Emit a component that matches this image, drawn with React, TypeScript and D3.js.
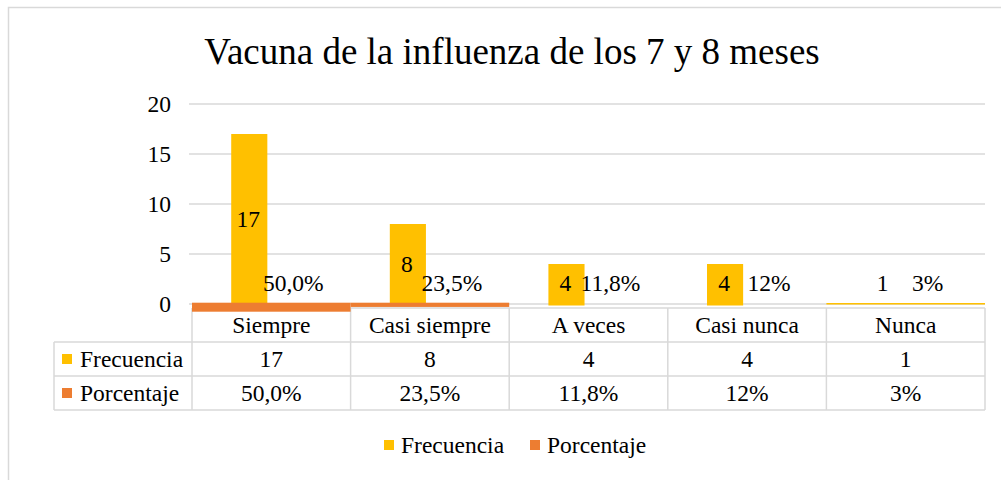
import React, { useEffect, useRef } from 'react';
import * as d3 from 'd3';

const categories = ['Siempre', 'Casi siempre', 'A veces', 'Casi nunca', 'Nunca'];
const frecuencia = [17, 8, 4, 4, 1];
const porcentaje = ['50,0%', '23,5%', '11,8%', '12%', '3%'];
// what the original chart actually plots (some cells were not plotted as bars)
const frecuenciaPlotted = [17, 8, 4, 4, null];
const porcentajePlotted = [0.5, 0.235, null, null, null];
const nuncaLineValue = 0.1;
const yTicks = [0, 5, 10, 15, 20];

const YELLOW = '#FFC000';
const ORANGE = '#ED7D31';
const GRID = '#d9d9d9';
const FONT = '"Liberation Serif", "Times New Roman", serif';
const FS = 23.5;

const App = () => {
  const ref = useRef<SVGSVGElement>(null);

  useEffect(() => {
    const svg = d3.select(ref.current);
    svg.selectAll('*').remove();

    // outer frame
    svg.append('rect')
      .attr('x', 8.5).attr('y', 7.5)
      .attr('width', 1000).attr('height', 480)
      .attr('fill', 'white').attr('stroke', GRID).attr('stroke-width', 1.5);

    svg.append('text')
      .attr('x', 512).attr('y', 64)
      .attr('text-anchor', 'middle')
      .attr('font-family', FONT).attr('font-size', 37)
      .text('Vacuna de la influenza de los 7 y 8 meses');

    const x = d3.scaleBand().domain(categories).range([192, 985]);
    const xs = d3.scaleBand().domain(['f', 'p']).range([0, x.bandwidth()])
      .paddingInner(0.18).paddingOuter(0.89);
    const y = d3.scaleLinear().domain([0, 20]).range([304, 104]);
    const pctDepth = d3.scaleLinear().domain([0, 1]).range([0, 18]);

    // gridlines + y labels
    svg.append('g').selectAll('line').data(yTicks).join('line')
      .attr('x1', 189).attr('x2', 985)
      .attr('y1', d => y(d)).attr('y2', d => y(d))
      .attr('stroke', GRID).attr('stroke-width', 1.5);
    svg.append('g').selectAll('text').data(yTicks).join('text')
      .attr('x', 171).attr('y', d => y(d) + 8)
      .attr('text-anchor', 'end')
      .attr('font-family', FONT).attr('font-size', FS)
      .text(d => d);

    // data table
    const rowH = 34;
    const top = 308;
    const left = 54;
    const table = svg.append('g');
    const hLines = [
      { y: top, x1: 192 },
      { y: top + rowH, x1: left },
      { y: top + rowH * 2, x1: left },
      { y: top + rowH * 3, x1: left },
    ];
    table.selectAll('line.h').data(hLines).join('line')
      .attr('x1', d => d.x1).attr('x2', 985)
      .attr('y1', d => d.y).attr('y2', d => d.y)
      .attr('stroke', GRID).attr('stroke-width', 1.5);
    const colEdges = [...categories.map(c => x(c)!), 985];
    table.selectAll('line.v').data(colEdges).join('line')
      .attr('x1', d => d).attr('x2', d => d)
      .attr('y1', top).attr('y2', top + rowH * 3)
      .attr('stroke', GRID).attr('stroke-width', 1.5);
    table.append('line')
      .attr('x1', left).attr('x2', left)
      .attr('y1', top + rowH).attr('y2', top + rowH * 3)
      .attr('stroke', GRID).attr('stroke-width', 1.5);

    const tText = table.append('g')
      .attr('font-family', FONT).attr('font-size', FS).attr('text-anchor', 'middle');
    categories.forEach((c, i) => {
      const cx = x(c)! + x.bandwidth() / 2;
      tText.append('text').attr('x', cx).attr('y', top + rowH / 2 + 8).text(c);
      tText.append('text').attr('x', cx).attr('y', top + rowH * 1.5 + 8).text(frecuencia[i]);
      tText.append('text').attr('x', cx).attr('y', top + rowH * 2.5 + 8).text(porcentaje[i]);
    });
    const series = [
      { name: 'Frecuencia', color: YELLOW },
      { name: 'Porcentaje', color: ORANGE },
    ];
    series.forEach((s, i) => {
      const cy = top + rowH * (1.5 + i);
      table.append('rect').attr('x', 62).attr('y', cy - 5).attr('width', 10).attr('height', 10).attr('fill', s.color);
      table.append('text').attr('x', 80).attr('y', cy + 8)
        .attr('font-family', FONT).attr('font-size', FS).text(s.name);
    });

    // frecuencia bars
    svg.append('g').selectAll('rect')
      .data(categories.map((c, i) => ({ c, v: frecuenciaPlotted[i] })).filter(d => d.v != null))
      .join('rect')
      .attr('x', d => x(d.c)! + xs('f')!)
      .attr('width', xs.bandwidth())
      .attr('y', d => y(d.v as number))
      .attr('height', d => y(0) - y(d.v as number) + 1.5)
      .attr('fill', YELLOW);

    // porcentaje bars (drawn full width, below the baseline)
    svg.append('g').selectAll('rect')
      .data(categories.map((c, i) => ({ c, v: porcentajePlotted[i] })).filter(d => d.v != null))
      .join('rect')
      .attr('x', d => x(d.c)!)
      .attr('width', x.bandwidth())
      .attr('y', y(0) - 1.3)
      .attr('height', d => pctDepth(d.v as number))
      .attr('fill', ORANGE);

    // thin line in Nunca
    svg.append('rect')
      .attr('x', x('Nunca')!).attr('width', x.bandwidth())
      .attr('y', y(nuncaLineValue)).attr('height', 1.5)
      .attr('fill', YELLOW);

    // data labels
    const labels = svg.append('g')
      .attr('font-family', FONT).attr('font-size', FS).attr('text-anchor', 'middle');
    categories.forEach((c, i) => {
      const mid = (y(0) + y(frecuencia[i])) / 2;
      labels.append('text')
        .attr('x', x(c)! + xs('f')! + xs.bandwidth() / 2 - 1)
        .attr('y', Math.min(mid, y(0) - 21) + 8)
        .text(frecuencia[i]);
      labels.append('text')
        .attr('x', x(c)! + xs('p')! + xs.bandwidth() / 2)
        .attr('y', y(0) - 13)
        .text(porcentaje[i]);
    });

    // legend
    const legend = svg.append('g').attr('font-family', FONT).attr('font-size', FS);
    const legX = [384, 530];
    series.forEach((s, i) => {
      legend.append('rect').attr('x', legX[i]).attr('y', 440).attr('width', 10).attr('height', 10).attr('fill', s.color);
      legend.append('text').attr('x', legX[i] + 17).attr('y', 453).text(s.name);
    });
  }, []);

  return (
    <svg ref={ref} width={1001} height={480}
      style={{ position: 'absolute', left: 0, top: 0, background: 'white' }} />
  );
};

export default App;
